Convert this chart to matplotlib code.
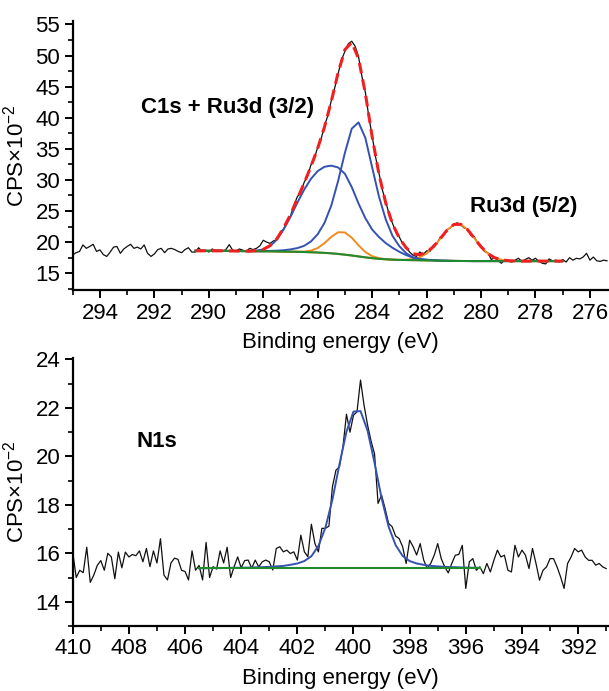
import numpy as np
import matplotlib
matplotlib.use("Agg")
import matplotlib.pyplot as plt
from matplotlib.ticker import MultipleLocator

plt.rcParams['font.family'] = ['Liberation Sans', 'DejaVu Sans']

# ---- C1s + Ru3d spectrum (raw counts, x100), 0.125 eV steps from 295 eV
c1s_start, c1s_step = 295.0, 0.125
c1s_raw = [
    17.95, 18.3, 18.5, 19.55, 19.0, 19.3, 19.65, 18.5, 18.75, 18.0,
    17.7, 18.4, 19.2, 19.3, 18.2, 18.9, 19.3, 19.65, 19.0, 19.2,
    18.9, 19.55, 18.2, 17.7, 18.1, 18.8, 19.0, 18.3, 18.9, 19.0,
    18.8, 18.5, 18.3, 18.8, 19.1, 18.4,
    18.4, 19.1, 18.5, 18.7, 18.4, 18.9, 18.6, 18.7, 18.5, 18.8,
    19.6, 18.7, 18.6, 18.9, 18.7, 18.5, 19.0, 18.8, 19.0, 19.4,
    20.3, 20.0,
    19.8, 20.2, 20.4, 21.6, 22.1, 23.5, 24.2, 25.9, 27.3, 28.0,
    29.6, 30.6, 32.4, 33.4, 35.3, 36.6, 38.7, 40.4, 42.8, 44.8,
    47.1, 49.3, 50.7, 51.9, 52.3, 51.5, 49.8, 46.6, 44.1, 40.2,
    37.1, 33.7, 31.1, 28.4, 26.5, 24.4, 23.0, 21.6, 20.8, 19.7,
    19.2, 18.4, 17.9, 17.7, 18.4, 18.0, 18.6, 18.5, 19.5, 19.7,
    20.8, 21.1, 22.0, 22.3, 22.9, 23.1, 22.8, 22.3, 22.1, 21.1,
    20.9, 19.8, 19.4, 18.5, 18.3, 17.2, 17.5, 17.0, 16.6, 17.2,
    17.0, 16.8, 17.1, 17.4, 16.9, 17.2, 17.5, 17.1, 17.4, 16.9,
    16.6, 16.5, 17.3, 17.0, 17.1, 16.8, 17.2, 16.8, 17.5, 17.1,
    17.4, 17.3, 17.6, 18.2, 17.1, 17.6, 17.0, 16.9, 17.1, 17.0,
]

# fit grid: 290.5 -> 277.0 eV, 0.25 eV steps
fit_start, fit_step = 290.5, 0.25
c1s_bg = [
    18.6, 18.6, 18.6, 18.6, 18.6, 18.58, 18.57, 18.56, 18.55, 18.54,
    18.53, 18.52, 18.5, 18.48, 18.46, 18.44, 18.41, 18.37, 18.33, 18.27,
    18.2, 18.1, 17.98, 17.85, 17.7, 17.55, 17.42, 17.32, 17.24, 17.18,
    17.14, 17.12, 17.1, 17.08, 17.06, 17.04, 17.02, 17.0, 16.98, 16.97,
    16.96, 16.95, 16.95, 16.95, 16.95, 16.95, 16.95, 16.95, 16.95, 16.95,
    16.95, 16.95, 16.95, 16.95, 16.95,
]
# peak heights above background
c1s_blue1 = [0] * 9 + [
    0.1, 0.3, 0.85, 1.9, 3.6, 5.6, 7.9, 10.0, 11.8, 13.1,
    13.85, 14.1, 13.9, 13.0, 11.0, 8.5, 6.3, 4.6, 3.5, 2.6,
    1.9, 1.3, 0.8, 0.4, 0.2, 0.1, 0.05] + [0] * 19
c1s_blue2 = [0] * 11 + [
    0.07, 0.13, 0.22, 0.37, 0.6, 0.99, 1.73, 2.94, 4.84, 7.7,
    11.75, 16.4, 20.4, 21.55, 19.2, 14.6, 10.0, 6.4, 3.8, 2.2,
    1.1, 0.45, 0.2, 0.1, 0.05] + [0] * 19
c1s_orange1 = [0] * 15 + [
    0.02, 0.07, 0.26, 0.72, 1.57, 2.65, 3.49, 3.58, 2.86, 1.78,
    0.86, 0.32, 0.10, 0.02] + [0] * 26
ru_orange2 = [0] * 31 + [
    0.06, 0.18, 0.49, 1.11, 2.14, 3.52, 4.92, 5.85, 5.91, 5.07,
    3.70, 2.30, 1.21, 0.54, 0.21, 0.07, 0.02] + [0] * 7

# ---- N1s spectrum, 0.125 eV steps from 410 eV
n1s_start, n1s_step = 410.0, 0.125
n1s_raw = [
    16.05, 15.0, 15.3, 15.2, 16.25, 14.8, 15.1, 15.5, 15.7, 15.3,
    16.0, 15.85, 14.95, 16.05, 15.4, 16.05, 15.85, 15.95, 15.9, 16.1,
    15.65, 16.2, 15.45, 16.1, 15.6, 16.6, 15.1, 14.9, 15.6, 15.8,
    15.75, 15.3, 15.25, 14.9, 16.1, 15.3, 15.5, 14.9, 16.45, 15.0,
    15.45, 15.35, 16.1, 15.6, 16.25, 15.0, 15.45, 15.85, 15.4,
    15.7, 15.72, 15.38, 15.72, 15.44, 15.65, 15.72, 15.65, 15.31, 16.2,
    16.27, 16.06, 16.13, 15.99, 16.06, 15.72, 16.75, 16.06, 15.86, 17.2,
    16.41, 16.06, 17.03, 17.03, 17.12, 18.75, 19.43, 19.57, 20.4, 21.74,
    21.0, 21.7, 21.84, 23.15, 22.12, 21.3, 20.64, 20.1, 18.06, 18.4,
    17.85, 17.23, 17.1, 16.71, 16.61, 16.27, 15.58, 16.54, 16.27, 15.93,
    16.4, 15.72, 15.38,
    15.58, 15.92, 16.4, 15.78, 15.44, 15.19, 15.58, 15.92, 15.95, 16.33,
    14.55, 15.65, 15.78, 15.3, 15.44, 15.16, 15.58, 15.23, 15.71, 16.13,
    15.85, 15.92, 15.3, 15.23, 16.33, 15.85, 16.13, 15.92, 15.37, 16.2,
    15.58, 14.89, 15.3, 15.44, 15.78, 15.78, 15.44, 15.03, 14.55, 15.58,
    15.85, 16.2, 16.06, 16.13, 15.85, 15.71, 15.71, 15.51, 15.58, 15.44,
    15.37,
]
n1s_fit_start, n1s_fit_step = 405.5, 0.25
n1s_bg_level = 15.38
n1s_peak = [
    0, 0.005, 0.01, 0.01, 0.015, 0.02, 0.025, 0.03, 0.04, 0.05,
    0.06, 0.08, 0.1, 0.145, 0.2, 0.3, 0.5, 0.92, 1.68, 2.84,
    4.29, 5.64, 6.47, 6.49, 5.69, 4.35, 2.9, 1.72, 0.96, 0.51,
    0.3, 0.2, 0.145, 0.1, 0.08, 0.06, 0.05, 0.04, 0.03, 0.025, 0.02,
]

BLACK = '#111111'
RED = '#f02020'
BLUE = '#3552b0'
ORANGE = '#f28a22'
GREEN = '#1f8a2e'


def energies(start, step, n):
    return start - step * np.arange(n)


def style_axis(ax):
    for s in ['top', 'right']:
        ax.spines[s].set_visible(False)
    for s in ['left', 'bottom']:
        ax.spines[s].set_linewidth(1.6)
    ax.tick_params(which='major', direction='out', length=6, width=1.4, labelsize=16, pad=3)
    ax.tick_params(which='minor', direction='out', length=3.5, width=1.2)
    ax.set_xlabel('Binding energy (eV)', fontsize=16, labelpad=6)
    ax.set_ylabel('CPS×10$^{\\mathregular{-2}}$', fontsize=16, labelpad=5)


fig = plt.figure(figsize=(6.09, 6.91), dpi=100)

# top panel
ax1 = fig.add_axes([0.1194, 0.5803, 0.8806, 0.3897])
x_raw = energies(c1s_start, c1s_step, len(c1s_raw))
x_fit = energies(fit_start, fit_step, len(c1s_bg))
bg = np.array(c1s_bg)
b1 = np.array(c1s_blue1)
b2 = np.array(c1s_blue2)
o1 = np.array(c1s_orange1)
o2 = np.array(ru_orange2)
envelope = bg + b1 + b2 + o1 + o2

ax1.plot(x_raw, c1s_raw, color=BLACK, lw=0.9, zorder=2)
ax1.plot(x_fit, bg + o1, color=ORANGE, lw=1.4, zorder=3)
ax1.plot(x_fit, bg + o2, color=ORANGE, lw=1.4, zorder=3)
ax1.plot(x_fit, bg + b1, color=BLUE, lw=1.4, zorder=3)
ax1.plot(x_fit, bg + b2, color=BLUE, lw=1.4, zorder=3)
ax1.plot(x_fit, bg, color=GREEN, lw=1.5, zorder=4)
ax1.plot(x_fit, envelope, color=RED, lw=2.2, ls=(0, (3.5, 2)), zorder=5)

ax1.set_xlim(295, 275.3)
ax1.set_ylim(12.3, 55.6)
ax1.xaxis.set_major_locator(MultipleLocator(2))
ax1.xaxis.set_minor_locator(MultipleLocator(1))
ax1.yaxis.set_major_locator(MultipleLocator(5))
ax1.yaxis.set_minor_locator(MultipleLocator(2.5))
style_axis(ax1)
ax1.text(289.3, 41.6, 'C1s + Ru3d (3/2)', fontsize=16, fontweight='bold',
         ha='center', va='center')
ax1.text(278.45, 25.7, 'Ru3d (5/2)', fontsize=16, fontweight='bold',
         ha='center', va='center')

# bottom panel
ax2 = fig.add_axes([0.1194, 0.0941, 0.8806, 0.3874])
xn_raw = energies(n1s_start, n1s_step, len(n1s_raw))
xn_fit = energies(n1s_fit_start, n1s_fit_step, len(n1s_peak))
ax2.plot(xn_raw, n1s_raw, color=BLACK, lw=0.9, zorder=2)
ax2.plot(xn_fit, n1s_bg_level + np.array(n1s_peak), color=BLUE, lw=1.4, zorder=3)
ax2.plot([xn_fit[0], xn_fit[-1]], [n1s_bg_level, n1s_bg_level], color=GREEN, lw=1.5, zorder=4)

ax2.set_xlim(410, 390.9)
ax2.set_ylim(13.0, 24.05)
ax2.xaxis.set_major_locator(MultipleLocator(2))
ax2.xaxis.set_minor_locator(MultipleLocator(1))
ax2.yaxis.set_major_locator(MultipleLocator(2))
ax2.yaxis.set_minor_locator(MultipleLocator(1))
style_axis(ax2)
ax2.text(407.0, 20.6, 'N1s', fontsize=16, fontweight='bold', ha='center', va='center')

fig.savefig('out.png', dpi=100)
